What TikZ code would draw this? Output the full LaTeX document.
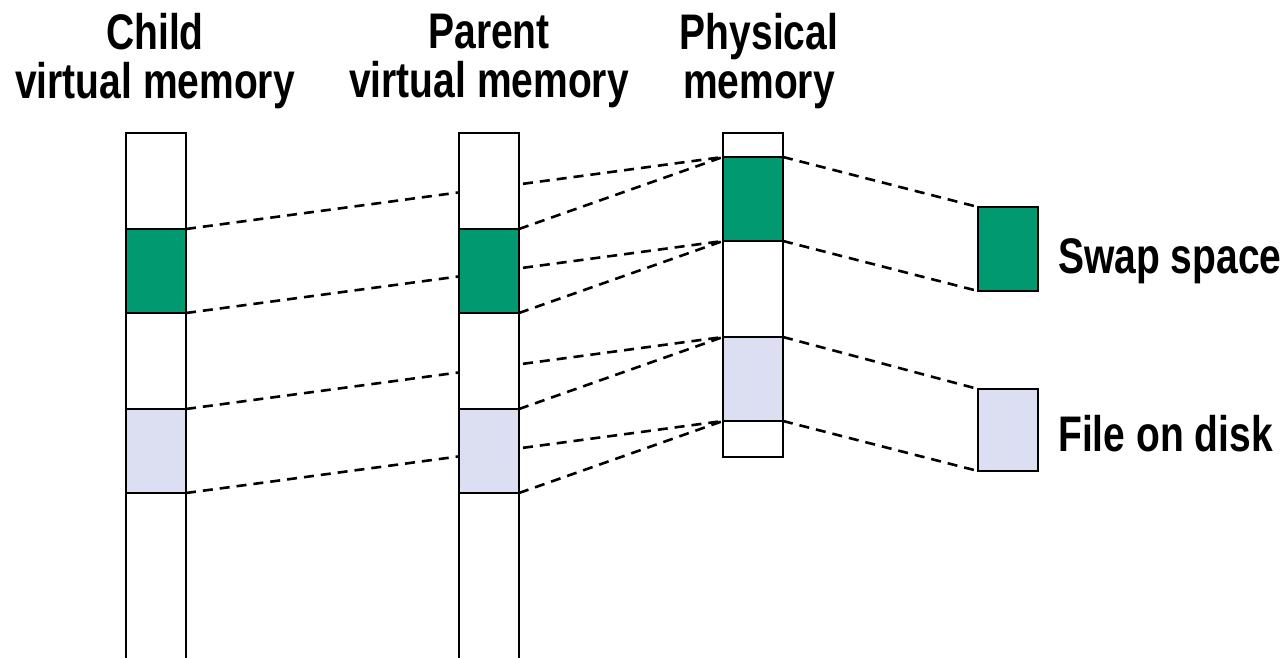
\documentclass[tikz,border=0pt]{standalone}
\usepackage{fontspec}
\setmainfont[FakeStretch=0.78]{Liberation Sans}
\pgfdeclarelayer{back}
\pgfdeclarelayer{bg}
\pgfsetlayers{back,bg,main}
\definecolor{swapgreen}{RGB}{0,153,112}
\definecolor{filelav}{RGB}{220,222,242}
\begin{document}
\begin{tikzpicture}[x=1pt,y=-1pt,
  seg/.style={draw=black,line width=2.2pt,minimum width=60pt,inner sep=0pt,outer sep=0pt},
  link/.style={draw=black,line width=2.6pt,dash pattern=on 10pt off 7pt},
  lbl/.style={font=\bfseries\fontsize{50}{49}\selectfont,align=center,inner sep=0pt}]
\begin{pgfonlayer}{back}
\fill[white] (0,0) rectangle (1288,658);
\end{pgfonlayer}
\useasboundingbox (0,0) rectangle (1288,658);
% columns
\node[seg,fill=white,minimum height=540pt] (cw) at (156,403) {};
\node[seg,fill=swapgreen,minimum height=84pt] (cg) at (156,271) {};
\node[seg,fill=filelav,minimum height=84pt] (cl) at (156,451) {};
\node[seg,fill=white,minimum height=540pt] (pw) at (489,403) {};
\node[seg,fill=swapgreen,minimum height=84pt] (pg) at (489,271) {};
\node[seg,fill=filelav,minimum height=84pt] (pl) at (489,451) {};
\node[seg,fill=white,minimum height=324pt] (mw) at (753,295) {};
\node[seg,fill=swapgreen,minimum height=84pt] (mg) at (753,199) {};
\node[seg,fill=filelav,minimum height=84pt] (ml) at (753,379) {};
\node[seg,fill=swapgreen,minimum height=84pt] (sw) at (1008,249) {};
\node[seg,fill=filelav,minimum height=82pt] (fd) at (1008,430) {};
% labels
\node[lbl] (tc) at (155,61) {Child\\virtual memory};
\node[lbl] (tp) at (489,61) {Parent\\virtual memory};
\node[lbl] (tm) at (759,61) {Physical\\memory};
\node[lbl,anchor=base west] (ts) at (1058,273) {Swap space};
\node[lbl,anchor=base west] (tf) at (1058,451) {File on disk};
% dashed links
\begin{pgfonlayer}{bg}
\draw[link] (cg.north east) -- (mg.north west);
\draw[link] (cg.south east) -- (mg.south west);
\draw[link] (cl.north east) -- (ml.north west);
\draw[link] (cl.south east) -- (ml.south west);
\draw[link] (pg.north east) -- (mg.north west);
\draw[link] (pg.south east) -- (mg.south west);
\draw[link] (pl.north east) -- (ml.north west);
\draw[link] (pl.south east) -- (ml.south west);
\draw[link] (mg.north east) -- (sw.north west);
\draw[link] (mg.south east) -- (sw.south west);
\draw[link] (ml.north east) -- (fd.north west);
\draw[link] (ml.south east) -- (fd.south west);
\end{pgfonlayer}
\end{tikzpicture}
\end{document}
